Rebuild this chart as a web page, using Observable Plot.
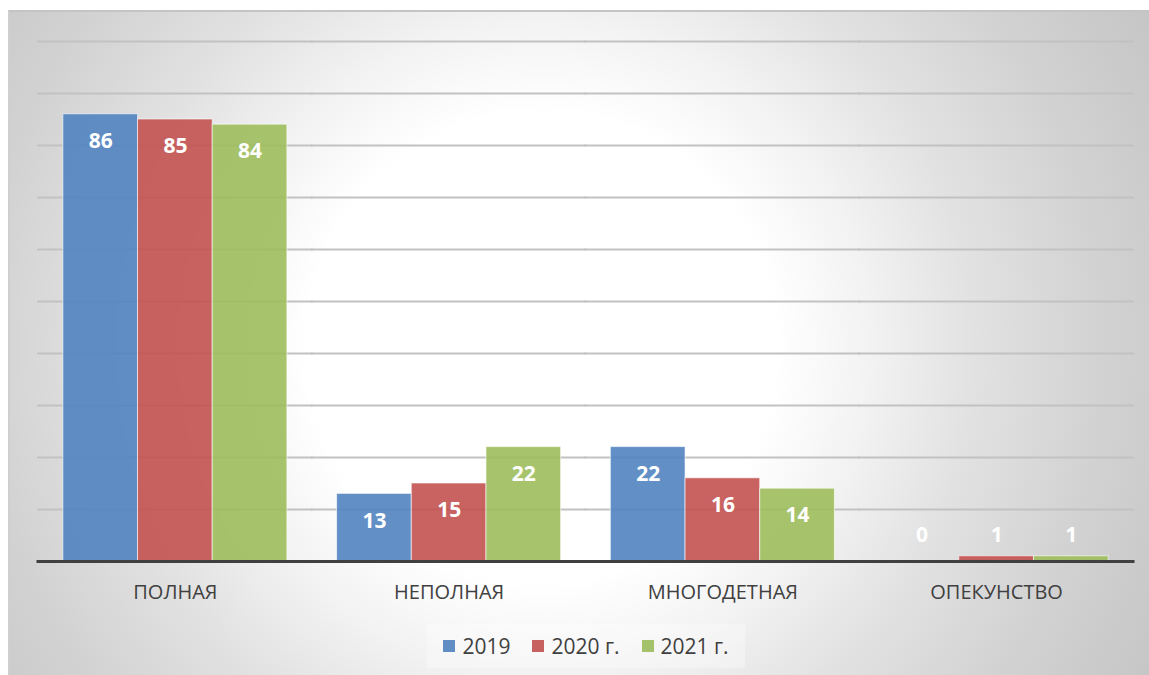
<!DOCTYPE html>
<html>
<head>
<meta charset="utf-8">
<script src="https://cdn.jsdelivr.net/npm/d3@7"></script>
<script src="https://cdn.jsdelivr.net/npm/@observablehq/plot@0.6"></script>
<style>
  html, body { margin: 0; padding: 0; width: 1149px; height: 675px; overflow: hidden; background: #fff; font-family: "Open Sans", sans-serif; }
  #frame {
    position: absolute; left: 8px; top: 10px; width: 1141px; height: 670px;
    border-top: 2px solid #c4c4c4; border-left: 2px solid #cfcfcf;
    background: radial-gradient(circle at 532px 335px, #ffffff 0px, #ffffff 235px, #f2f2f2 330px, #e2e2e2 430px, #d2d2d2 560px, #c6c6c6 690px);
  }
  #chart { position: absolute; left: 0; top: 0; }
  #legend {
    position: absolute; left: 427px; top: 624px; width: 318px; height: 44px;
    background: rgba(255,255,255,0.3);
    display: flex; align-items: center; justify-content: center; gap: 22px;
    font-family: "Open Sans", sans-serif; font-size: 21px; color: #404040;
  }
  #legend .item { display: flex; align-items: center; gap: 7px; }
  #legend .sw { width: 12px; height: 12px; display: inline-block; }
</style>
</head>
<body>
<div id="frame"></div>
<div id="chart"></div>
<div id="legend"></div>
<script>
const categories = ["ПОЛНАЯ", "НЕПОЛНАЯ", "МНОГОДЕТНАЯ", "ОПЕКУНСТВО"];
const seriesNames = ["2019", "2020 г.", "2021 г."];
const values2019 = [86, 13, 22, 0];
const values2020 = [85, 15, 16, 1];
const values2021 = [84, 22, 14, 1];
const colors = ["#5083c0", "#c35250", "#9dbe5d"];
const legendColors = ["#5f8dc4", "#c6615f", "#a4c26b"];
const yTicks = [10, 20, 30, 40, 50, 60, 70, 80, 90, 100];

const seriesValues = [values2019, values2020, values2021];
const data = [];
categories.forEach((c, i) => {
  seriesNames.forEach((s, j) => data.push({cat: c, series: s, value: seriesValues[j][i]}));
});

const chart = Plot.plot({
  width: 1149,
  height: 620,
  marginTop: 41,
  marginBottom: 59,
  marginLeft: 38,
  marginRight: 16,
  style: {background: "transparent", fontFamily: "Open Sans, sans-serif"},
  fx: {domain: categories, padding: 0, round: false, label: null},
  x: {domain: seriesNames, paddingInner: 0, paddingOuter: 0.333, round: false, axis: null},
  y: {domain: [0, 100], axis: null},
  color: {domain: seriesNames, range: colors},
  marks: [
    Plot.ruleY(yTicks, {stroke: "#c2c2c2", strokeWidth: 1.8, strokeLinecap: "square"}),
    Plot.barY(data, {fx: "cat", x: "series", y: "value", fill: "series", fillOpacity: 0.9, stroke: "#ffffff", strokeOpacity: 0.6, strokeWidth: 1}),
    Plot.ruleY([0], {stroke: "#404040", strokeWidth: 3, strokeLinecap: "square"}),
    Plot.text(data.filter(d => d.value >= 5), {fx: "cat", x: "series", y: "value", text: d => String(d.value), dy: 27, fill: "white", fontSize: 21, fontWeight: "bold"}),
    Plot.text(data.filter(d => d.value < 5), {fx: "cat", x: "series", text: d => String(d.value), frameAnchor: "bottom", lineAnchor: "middle", dy: -26, fill: "white", fontSize: 21, fontWeight: "bold"}),
    Plot.axisFx({anchor: "bottom", tickSize: 0, tickPadding: 23, label: null, fontSize: 20, fill: "#404040"})
  ]
});
document.getElementById("chart").appendChild(chart);

const legend = document.getElementById("legend");
seriesNames.forEach((s, i) => {
  const item = document.createElement("div");
  item.className = "item";
  const sw = document.createElement("span");
  sw.className = "sw";
  sw.style.background = legendColors[i];
  const t = document.createElement("span");
  t.textContent = s;
  item.appendChild(sw);
  item.appendChild(t);
  legend.appendChild(item);
});
</script>
</body>
</html>
